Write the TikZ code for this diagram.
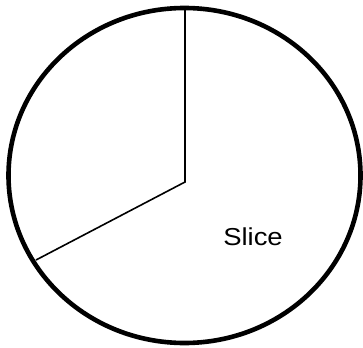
\documentclass[tikz,border=0pt]{standalone}
\usepackage{fontspec}
\setmainfont{Liberation Sans}
\begin{document}
\begin{tikzpicture}[x=1pt,y=-1pt,
  rim/.style={line width=4.6pt},
  cut/.style={line width=1.6pt},
  lbl/.style={font=\fontsize{24.5}{28}\selectfont, xscale=1.12, inner sep=0pt}]
\useasboundingbox (0,0) rectangle (363,347);
\draw[rim] (184.5,175.5) ellipse [x radius=176, y radius=167.5];
\coordinate (t) at (185,8);
\coordinate (c) at (185,182);
\coordinate (l) at (36,260);
\draw[cut] (t) -- (c) -- (l);
\node[lbl] (slice) at (253,237) {Slice};
\end{tikzpicture}
\end{document}
